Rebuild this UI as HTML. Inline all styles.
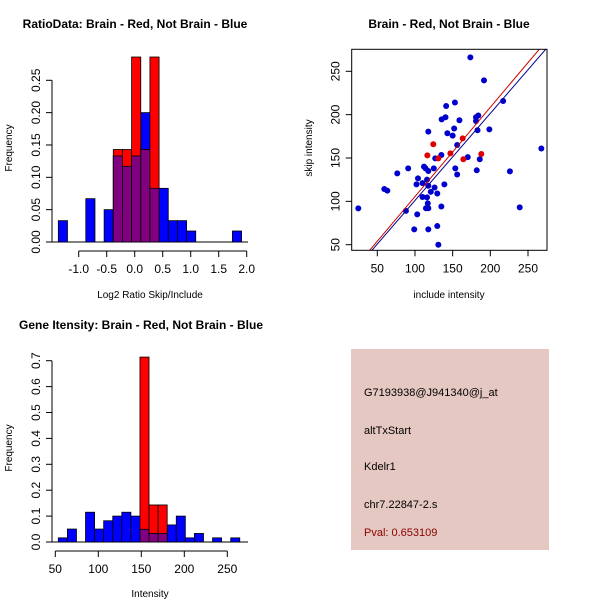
<!DOCTYPE html>
<html><head><meta charset="utf-8"><style>
body{margin:0;background:#fff;}
svg{display:block;font-family:"Liberation Sans",sans-serif;}
</style></head><body>
<svg id="s" width="600" height="600" xmlns="http://www.w3.org/2000/svg">
<rect x="0" y="0" width="600" height="600" fill="#fff"/>
<g id="c1"></g>
<g id="c2"></g>
<g id="c3"></g>
<g>
<rect x="351" y="349" width="198" height="201" fill="#e5c8c1"/>
<text x="364" y="396" font-size="11" fill="#000">G7193938@J941340@j_at</text>
<text x="364" y="434" font-size="11" fill="#000">altTxStart</text>
<text x="364" y="470" font-size="11" fill="#000">Kdelr1</text>
<text x="364" y="508" font-size="11" fill="#000">chr7.22847-2.s</text>
<text x="364" y="536" font-size="11" fill="#8b0000">Pval: 0.653109</text>
</g>
</svg>
<script>
// Chart 1 data
const ratioBinStart = -1.364;
const ratioBinWidth = 0.1636;
const ratioBlue = [0.033,0,0,0.067,0,0.05,0.133,0.117,0.133,0.2,0.083,0.083,0.033,0.033,0.017,0,0,0,0,0.017];
const ratioRed  = [0,0,0,0,0,0,0.143,0.143,0.286,0.143,0.286,0,0,0,0,0,0,0,0,0];
const ratioXTicks = [-1.0,-0.5,0.0,0.5,1.0,1.5,2.0];
const ratioYTicks = [0.00,0.05,0.10,0.15,0.20,0.25];
// Chart 3 data
const intBinStart = 53.5;
const intBinWidth = 10.55;
const intBlue = [0.016,0.05,0,0.115,0.05,0.082,0.1,0.115,0.1,0.049,0.033,0.033,0.066,0.1,0.016,0.033,0,0.016,0,0.016];
const intRed  = [0,0,0,0,0,0,0,0,0,0.714,0.143,0.143,0,0,0,0,0,0,0,0];
const intXTicks = [50,100,150,200,250];
const intYTicks = [0.0,0.1,0.2,0.3,0.4,0.5,0.6,0.7];
// Chart 2 data
const blueX = [24.8,59.3,63.3,76.5,91,88,99,102,103,104,110,110,112,114,114.6,117.7,116,117,116,117.7,117.7,117.7,117.7,121,126,125,126.9,129.6,129.6,131,135,135,135.4,139,140.5,141.4,143,150,152,153,153.5,156,156,159,170,173.5,181,181,184,183,182,186,191.6,198.7,217,226,239,267.7];
const blueY = [91.9,114.2,112.3,132.3,138,89,67.7,119.6,85,126.5,121,105,140,138,92,92,104.6,97.7,125,135,180.4,118,67.7,111,116,138,149.6,109,71.5,50,153.5,94,194.6,119.6,197,210,178.5,175.8,184,214,138,131,165,193.5,151,266,197,192.7,199,182,135.8,148.5,239.6,183,215.8,134.6,93,161];
const redX = [116.4,124.3,131,147,163.3,164.2,188];
const redY = [153,165.8,149.6,155.4,172.7,148.5,154.6];
const scatterTicks = [50,100,150,200,250];
const redFit = [2.5,1.03];   // intercept, slope
const blueFit = [0.5,1.005];

const NS="http://www.w3.org/2000/svg";
function mk(parent,tag,attrs,txt){const e=document.createElementNS(NS,tag);for(const k in attrs)e.setAttribute(k,attrs[k]);if(txt!==undefined)e.textContent=txt;parent.appendChild(e);return e;}

function histogram(g,o){
  const X=v=>o.x0px+(v-o.x0)*o.xs, Y=v=>o.y0px-v*o.ys;
  const base=mk(g,'line',{x1:o.axX,x2:248,y1:o.y0px,y2:o.y0px,stroke:'#000','stroke-width':1});
  
  
  o.blue.forEach((v,i)=>{ if(v<=0)return;
    const a=o.binStart+i*o.binWidth;
    const r=mk(g,'rect',{x:X(a),y:Y(v),width:o.binWidth*o.xs,height:v*o.ys,fill:'#0000ff',stroke:'#000','stroke-width':0.8});
    
    
  });
  o.red.forEach((v,i)=>{ if(v<=0)return;
    const a=o.binStart+i*o.binWidth;
    const r=mk(g,'rect',{x:X(a),y:Y(v),width:o.binWidth*o.xs,height:v*o.ys,fill:'#ff0000',stroke:'#000','stroke-width':0.8});
    
    
    const m=Math.min(v,o.blue[i]);
    if(m>0){
      const p=mk(g,'rect',{x:X(a),y:Y(m),width:o.binWidth*o.xs,height:m*o.ys,fill:'#800080',stroke:'#000','stroke-width':0.8});
      
      
    }
  });
  const xa=mk(g,'g',{});
  
  
  const xt=o.xTicks, ay=o.y0px+9;
  mk(xa,'line',{x1:X(xt[0]),x2:X(xt[xt.length-1]),y1:ay,y2:ay,stroke:'#000'});
  xt.forEach(t=>{mk(xa,'line',{x1:X(t),x2:X(t),y1:ay,y2:ay+6,stroke:'#000'});
    const l=mk(xa,'text',{x:X(t),y:ay+22,'font-size':12,'text-anchor':'middle'},o.xFmt(t));
    
    });
  const ya=mk(g,'g',{});
  
  
  const yt=o.yTicks, ax=o.axX;
  mk(ya,'line',{x1:ax,x2:ax,y1:Y(yt[0]),y2:Y(yt[yt.length-1]),stroke:'#000'});
  yt.forEach(t=>{mk(ya,'line',{x1:ax,x2:ax-6,y1:Y(t),y2:Y(t),stroke:'#000'});
    const l=mk(ya,'text',{x:0,y:0,'font-size':12,'text-anchor':'middle',transform:`translate(${ax-12},${Y(t)}) rotate(-90)`},o.yFmt(t));
    
    });
}

const g1=document.getElementById('c1');
histogram(g1,{x0:-1,x0px:78.7,xs:56,y0px:242,ys:646.8,binStart:ratioBinStart,binWidth:ratioBinWidth,blue:ratioBlue,red:ratioRed,xTicks:ratioXTicks,yTicks:ratioYTicks,axX:52,xFmt:t=>t.toFixed(1),yFmt:t=>t.toFixed(2)});
const g3=document.getElementById('c3');
histogram(g3,{x0:50,x0px:55.3,xs:0.86,y0px:542,ys:259,binStart:intBinStart,binWidth:intBinWidth,blue:intBlue,red:intRed,xTicks:intXTicks,yTicks:intYTicks,axX:52,xFmt:t=>String(t),yFmt:t=>t.toFixed(1)});

[[g1,135,28,'RatioData: Brain - Red, Not Brain - Blue','chart-title'],[g3,141,329,'Gene Itensity: Brain - Red, Not Brain - Blue','chart-title']].forEach(a=>{
  const t=mk(a[0],'text',{x:a[1],y:a[2],'font-size':12,'font-weight':'bold','text-anchor':'middle'},a[3]);
  });
let t;
t=mk(g1,'text',{x:150,y:298,'font-size':10,'text-anchor':'middle'},'Log2 Ratio Skip/Include');

t=mk(g1,'text',{x:0,y:0,'font-size':10,'text-anchor':'middle',transform:'translate(12,148) rotate(-90)'},'Frequency');

t=mk(g3,'text',{x:150,y:597,'font-size':10,'text-anchor':'middle'},'Intensity');

t=mk(g3,'text',{x:0,y:0,'font-size':10,'text-anchor':'middle',transform:'translate(12,448) rotate(-90)'},'Frequency');


// scatter
const g2=document.getElementById('c2');
const SX=v=>377.3+(v-50)*0.7535, SY=v=>244.7-(v-50)*0.867;
const bx0=351.7,bx1=547,by0=49.3,by1=250.3;
const clip=mk(g2,'clipPath',{id:'cp'});mk(clip,'rect',{x:bx0,y:by0,width:bx1-bx0,height:by1-by0});
const pts=mk(g2,'g',{'clip-path':'url(#cp)'});
blueX.forEach((x,i)=>{const c=mk(pts,'circle',{cx:SX(x),cy:SY(blueY[i]),r:3,fill:'#0000cd'});
  });
redX.forEach((x,i)=>{const c=mk(pts,'circle',{cx:SX(x),cy:SY(redY[i]),r:3,fill:'#e00000'});
  });
[[blueFit,'#00008b','blue-fit-line'],[redFit,'#cc0000','red-fit-line']].forEach(f=>{
  const l=mk(pts,'line',{x1:SX(0),y1:SY(f[0][0]),x2:SX(300),y2:SY(f[0][0]+f[0][1]*300),stroke:f[1],'stroke-width':1});
  });
const box=mk(g2,'rect',{x:bx0,y:by0,width:bx1-bx0,height:by1-by0,fill:'none',stroke:'#000'});

scatterTicks.forEach(v=>{
  mk(g2,'line',{x1:SX(v),x2:SX(v),y1:by1,y2:by1+6,stroke:'#000'});
  let l=mk(g2,'text',{x:SX(v),y:by1+22,'font-size':12,'text-anchor':'middle'},String(v));
  
  mk(g2,'line',{x1:bx0,x2:bx0-6,y1:SY(v),y2:SY(v),stroke:'#000'});
  l=mk(g2,'text',{x:0,y:0,'font-size':12,'text-anchor':'middle',transform:`translate(${bx0-12},${SY(v)}) rotate(-90)`},String(v));
  
});
t=mk(g2,'text',{x:449,y:28,'font-size':12,'font-weight':'bold','text-anchor':'middle'},'Brain - Red, Not Brain - Blue');

t=mk(g2,'text',{x:449,y:298,'font-size':10,'text-anchor':'middle'},'include intensity');

t=mk(g2,'text',{x:0,y:0,'font-size':10,'text-anchor':'middle',transform:'translate(312,148) rotate(-90)'},'skip intensity');

</script>
</body></html>
